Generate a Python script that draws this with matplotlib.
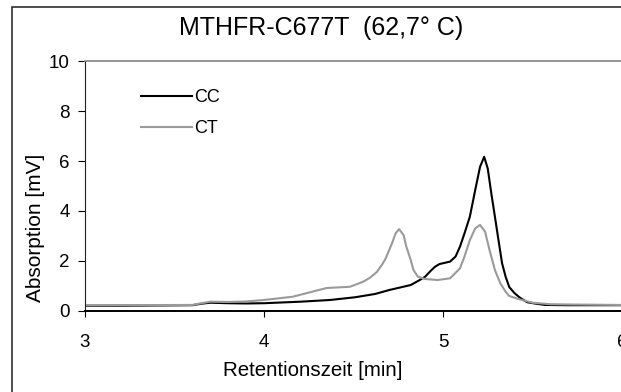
import matplotlib
matplotlib.use("Agg")
import matplotlib.pyplot as plt
from matplotlib.patches import Rectangle

plt.rcParams["font.family"] = ["Liberation Sans", "DejaVu Sans"]

# retention time [min] / absorption [mV]
cc_time = [3.00, 3.20, 3.60, 3.65, 3.70, 3.80, 3.90, 4.00, 4.20, 4.37, 4.51, 4.62,
           4.70, 4.82, 4.87, 4.90, 4.93, 4.955, 4.98, 5.01, 5.04, 5.07, 5.095,
           5.12, 5.15, 5.18, 5.207, 5.23, 5.25, 5.27, 5.29, 5.31, 5.33, 5.35,
           5.37, 5.40, 5.43, 5.47, 5.52, 5.57, 5.70, 6.00]
cc_abs = [0.20, 0.20, 0.22, 0.28, 0.32, 0.30, 0.29, 0.30, 0.36, 0.43, 0.54, 0.67,
          0.83, 1.03, 1.23, 1.36, 1.59, 1.76, 1.87, 1.92, 1.97, 2.17, 2.57,
          3.10, 3.77, 4.84, 5.77, 6.17, 5.70, 4.70, 3.77, 2.83, 1.90, 1.36,
          0.95, 0.70, 0.52, 0.34, 0.28, 0.23, 0.22, 0.22]

ct_time = [3.00, 3.60, 3.65, 3.70, 3.80, 3.90, 4.00, 4.16, 4.35, 4.48, 4.55, 4.59,
           4.63, 4.66, 4.68, 4.715, 4.735, 4.755, 4.78, 4.795, 4.82, 4.835, 4.86,
           4.90, 4.97, 5.04, 5.095, 5.12, 5.15, 5.18, 5.207, 5.235, 5.26, 5.29,
           5.32, 5.35, 5.37, 5.43, 5.50, 5.60, 5.70, 6.00]
ct_abs = [0.22, 0.23, 0.30, 0.36, 0.35, 0.37, 0.43, 0.56, 0.91, 0.96, 1.15, 1.31,
          1.55, 1.85, 2.10, 2.70, 3.10, 3.27, 3.03, 2.57, 2.03, 1.63, 1.36,
          1.27, 1.23, 1.30, 1.70, 2.17, 2.83, 3.30, 3.44, 3.17, 2.43, 1.63,
          1.10, 0.76, 0.59, 0.45, 0.32, 0.26, 0.25, 0.23]

x_ticks = [3, 4, 5, 6]
y_ticks = [0, 2, 4, 6, 8, 10]

W, H = 621, 392
fig = plt.figure(figsize=(W / 100, H / 100), dpi=100)
ax = fig.add_axes([85 / W, (H - 310.7) / H, (622 - 85) / W, 249.4 / H])

ax.plot(cc_time, cc_abs, color="black", lw=1.5, label="CC")
ax.plot(ct_time, ct_abs, color="#9a9a9a", lw=1.5, label="CT")

ax.set_xlim(3, 6)
ax.set_ylim(0, 10)
ax.set_xticks(x_ticks)
ax.set_yticks(y_ticks)
ax.tick_params(axis="both", direction="out", labelsize=13.5, color="black")
ax.tick_params(axis="x", length=4, pad=13)
ax.tick_params(axis="y", length=5, pad=6)

ax.spines["right"].set_visible(False)
ax.spines["top"].set_color("#8c8c8c")
ax.spines["top"].set_linewidth(1.3)
ax.spines["left"].set_color("#202020")
ax.spines["bottom"].set_color("black")
ax.spines["bottom"].set_linewidth(1.4)
ax.patch.set_alpha(0)

ax.legend(loc="upper left", bbox_to_anchor=(56 / 537, 0.889), frameon=False,
          handlelength=2.85, handletextpad=0.1, labelspacing=0.78, fontsize=13,
          borderaxespad=0, borderpad=0)

fig.text(321 / W, 1 - 28 / H, "MTHFR-C677T  (62,7° C)", ha="center", va="center",
         fontsize=18)
fig.text(313 / W, 1 - 371 / H, "Retentionszeit [min]", ha="center", va="center",
         fontsize=14.8)
fig.text(36 / W, 1 - 228 / H, "Absorption [mV]", ha="center", va="center",
         rotation=90, fontsize=15)

fig.add_artist(Rectangle((12 / W, -0.1), 1.2, 1.1 - 7 / H, transform=fig.transFigure,
                         fill=False, edgecolor="#303030", lw=1.2))

fig.savefig("out.png", dpi=100)
